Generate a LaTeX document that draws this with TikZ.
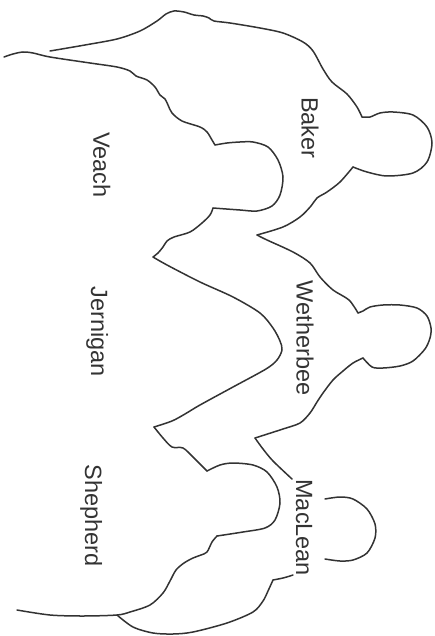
\documentclass[tikz,border=0pt]{standalone}
\usepackage{fontspec}
\setmainfont{Liberation Sans}
\begin{document}
\begin{tikzpicture}[x=1pt,y=-1pt,
  outline/.style={draw=ink,line width=1.5pt,line cap=round,line join=round},
  crewname/.style={text=ink,font=\fontsize{23.5}{28}\selectfont,inner sep=0pt,rotate=-90,anchor=base}]
\definecolor{ink}{HTML}{333333}
\useasboundingbox (0,0) rectangle (434,636);

% Baker: back and shoulder, head, front down to the first fold
\draw[outline] plot[smooth] coordinates {(50,51) (85,45) (117,39) (140,31) (157,21) (166,14) (174,11) (184,12) (194,15) (203,16) (209,18) (214,21) (230,23) (260,28) (283,33) (303,42) (313,51) (323,69) (332,82) (347,94) (357,107) (362,117)};
\draw[outline] plot[smooth] coordinates {(362,117) (370,117) (380,113) (393,112) (413,115) (427,127) (432,143) (427,162) (413,173) (387,176) (367,172) (353,167)};
\draw[outline] plot[smooth] coordinates {(353,167) (340,182) (327,192) (317,198) (311,206) (300,217) (283,227) (257,235)};

% Wetherbee
\draw[outline] plot[smooth] coordinates {(257,235) (267,240) (293,252) (310,263) (320,277) (333,290) (349,300) (358,313)};
\draw[outline] plot[smooth] coordinates {(358,313) (363,311) (370,307) (383,305) (400,305) (417,308) (427,316) (431,328) (430,338) (425,349) (413,361) (400,366) (383,368) (372,367) (363,358)};
\draw[outline] plot[smooth] coordinates {(363,358) (353,363) (343,371) (333,380) (323,393) (317,402) (310,413) (300,423) (283,429) (255,438)};
\draw[outline] plot[smooth] coordinates {(255,438) (263,449) (273,461) (292,479)};

% Veach
\draw[outline] plot[smooth] coordinates {(4,57) (13,54) (23,52) (33,53) (50,57) (90,63) (117,67) (130,71) (136,76) (147,80) (155,87) (160,95) (165,99) (168,105) (172,113) (182,121) (200,127) (207,132) (212,140) (215,145)};
\draw[outline] plot[smooth] coordinates {(215,145) (227,143) (240,142) (253,142) (268,147) (278,160) (283,177) (280,195) (272,206) (257,211) (240,210) (213,208)};
\draw[outline] plot[smooth] coordinates {(213,208) (210,215) (202,223) (190,232) (174,237) (167,241) (163,247) (158,253) (153,257)};

% Jernigan
\draw[outline] plot[smooth] coordinates {(153,257) (167,265) (200,282) (233,297) (260,313) (273,328) (280,341) (282,350) (277,360) (266,369) (233,387) (200,405) (185,414) (172,421) (154,427)};
\draw[outline] plot[smooth] coordinates {(154,427) (163,438) (172,447) (183,448) (193,457) (207,471)};

% Shepherd
\draw[outline] plot[smooth] coordinates {(207,471) (220,465) (233,463) (253,465) (267,472) (277,487) (280,503) (275,520) (265,528) (243,532) (217,536)};
\draw[outline] plot[smooth] coordinates {(217,536) (212,542) (207,552) (201,555) (193,558) (184,563) (176,570) (170,581) (163,593) (150,605) (130,612) (117,615) (83,616) (50,615) (17,610)};

% MacLean: body and open head
\draw[outline] plot[smooth] coordinates {(117,615) (133,627) (153,633) (173,634) (193,632) (227,623) (253,612) (263,601) (268,591) (273,580)};
\draw[outline] plot[smooth] coordinates {(273,580) (283,578) (290,576) (293,575)};
\draw[outline] plot[smooth] coordinates {(325,499) (340,497) (353,499) (367,509) (375,524) (375,538) (367,553) (353,560) (340,561) (325,559)};

% Names
\node[crewname] (baker) at (301.5,127.7) {Baker};
\node[crewname] (veach) at (93.3,165) {Veach};
\node[crewname] (wetherbee) at (296.7,338) {Wetherbee};
\node[crewname] (jernigan) at (91,332) {Jernigan};
\node[crewname] (shepherd) at (85,515.5) {Shepherd};
\node[crewname] (maclean) at (296,527.7) {MacLean};
\end{tikzpicture}
\end{document}
